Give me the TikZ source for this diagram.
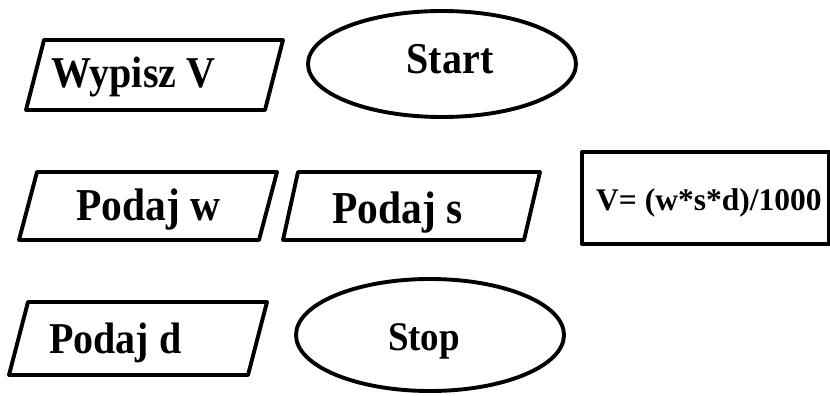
\documentclass[tikz,border=0pt]{standalone}
\usepackage{fontspec}
\setmainfont{Liberation Serif}
\newcommand{\tallbox}[1]{\scalebox{1}[1.1]{#1}}
\begin{document}
\begin{tikzpicture}[x=1pt,y=-1pt,
  shapeline/.style={draw=black,line width=3.9pt,line join=round,fill=white},
  lbl/.style={inner sep=0pt,font=\bfseries}]
\useasboundingbox (0,0) rectangle (830,396);
% Wypisz V
\draw[shapeline] (44,40) -- (283,40) -- (265,110) -- (26,110) -- cycle;
\node[lbl,anchor=base west,font=\fontsize{40}{45}\selectfont\bfseries] (wyp) at (51,88) {\tallbox{Wypisz V}};
% Start
\draw[shapeline] (442,64) ellipse [x radius=134, y radius=53];
\node[lbl,anchor=base,font=\fontsize{40}{44}\selectfont\bfseries] (start) at (450,74) {\tallbox{Start}};
% Podaj w
\draw[shapeline] (37,172) -- (277,172) -- (259,240) -- (19,240) -- cycle;
\node[lbl,anchor=base west,font=\fontsize{41.5}{45}\selectfont\bfseries] (pw) at (76,220) {\tallbox{Podaj w}};
% Podaj s
\draw[shapeline] (298,172) -- (540,172) -- (524,240) -- (283,240) -- cycle;
\node[lbl,anchor=base west,font=\fontsize{41.5}{45}\selectfont\bfseries] (ps) at (332,223) {\tallbox{Podaj s}};
% V box
\draw[shapeline] (582,152) rectangle (829,244);
\node[lbl,anchor=base west,font=\fontsize{31.5}{35}\selectfont\bfseries] (vf) at (596,210) {V= (w*s*d)/1000};
% Podaj d
\draw[shapeline] (28,302) -- (267,302) -- (248,375) -- (9,375) -- cycle;
\node[lbl,anchor=base west,font=\fontsize{40}{43}\selectfont\bfseries] (pd) at (49,353) {\tallbox{Podaj d}};
% Stop
\draw[shapeline] (430,335) ellipse [x radius=134, y radius=56];
\node[lbl,anchor=base,font=\fontsize{37}{41}\selectfont\bfseries] (stop) at (424,350) {\tallbox{Stop}};
\end{tikzpicture}
\end{document}
